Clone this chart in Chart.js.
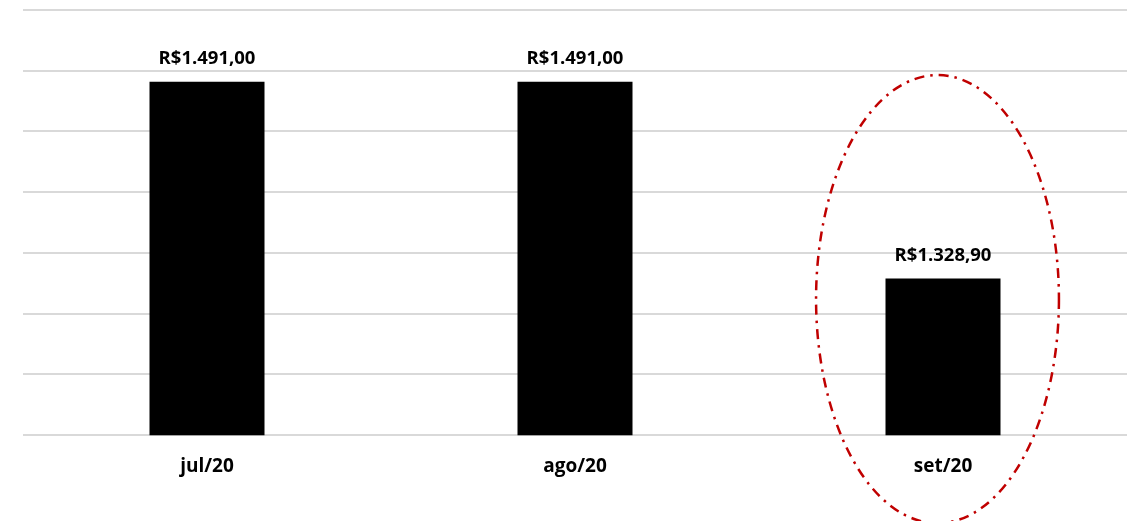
<!DOCTYPE html>
<html>
<head>
<meta charset="utf-8">
<script src="https://cdn.jsdelivr.net/npm/chart.js@4"></script>
<style>
  html, body { margin: 0; padding: 0; background: #fff; }
  #wrap { width: 1129px; height: 521px; }
</style>
</head>
<body>
<div id="wrap"><canvas id="chart"></canvas></div>
<script>
var months = ["jul/20", "ago/20", "set/20"];
var values = [1491.00, 1491.00, 1328.90];
var labels = ["R$1.491,00", "R$1.491,00", "R$1.328,90"];

var FONT = "'Open Sans', Lato, sans-serif";

// writes the value above each bar
var valueLabels = {
    id: 'valueLabels',
    afterDatasetsDraw: function (chart) {
        var ctx = chart.ctx;
        var meta = chart.getDatasetMeta(0);
        ctx.save();
        ctx.font = "bold 18.5px " + FONT;
        ctx.fillStyle = "#000";
        ctx.textAlign = "center";
        ctx.textBaseline = "alphabetic";
        meta.data.forEach(function (bar, i) {
            ctx.fillText(labels[i], bar.x, bar.y - 18);
        });
        ctx.restore();
    }
};

// red dash-dot ellipse around the last month
var highlight = {
    id: 'highlight',
    afterDraw: function (chart) {
        var ctx = chart.ctx;
        var x = chart.scales.x, area = chart.chartArea;
        var step = x.getPixelForValue(1) - x.getPixelForValue(0);
        var h = area.bottom - area.top;
        var cx = x.getPixelForValue(2) - 5.5;
        var cy = area.bottom - 0.32 * h;
        ctx.save();
        ctx.beginPath();
        ctx.ellipse(cx, cy, 0.33 * step, 0.527 * h, 0, 0, Math.PI * 2);
        ctx.strokeStyle = "#c00000";
        ctx.lineWidth = 2.5;
        ctx.setLineDash([10, 6, 2.5, 6]);
        ctx.stroke();
        ctx.restore();
    }
};

new Chart(document.getElementById("chart"), {
    type: 'bar',
    data: {
        labels: months,
        datasets: [{
            data: values,
            backgroundColor: "#000000",
            borderWidth: 0,
            barPercentage: 0.3125,
            categoryPercentage: 1
        }]
    },
    options: {
        responsive: true,
        maintainAspectRatio: false,
        animation: false,
        layout: { padding: { left: 23, right: 2, top: 10, bottom: 31 } },
        plugins: {
            legend: { display: false },
            tooltip: { enabled: false }
        },
        scales: {
            x: {
                grid: { display: false },
                border: { display: false },
                ticks: {
                    padding: 12,
                    color: "#000",
                    font: { family: FONT, size: 19, weight: 'bold' }
                }
            },
            y: {
                min: 1200,
                max: 1550,
                ticks: { display: false, stepSize: 50 },
                grid: { color: "#d9d9d9", lineWidth: 2, drawTicks: false },
                border: { display: false }
            }
        }
    },
    plugins: [valueLabels, highlight]
});
</script>
</body>
</html>
